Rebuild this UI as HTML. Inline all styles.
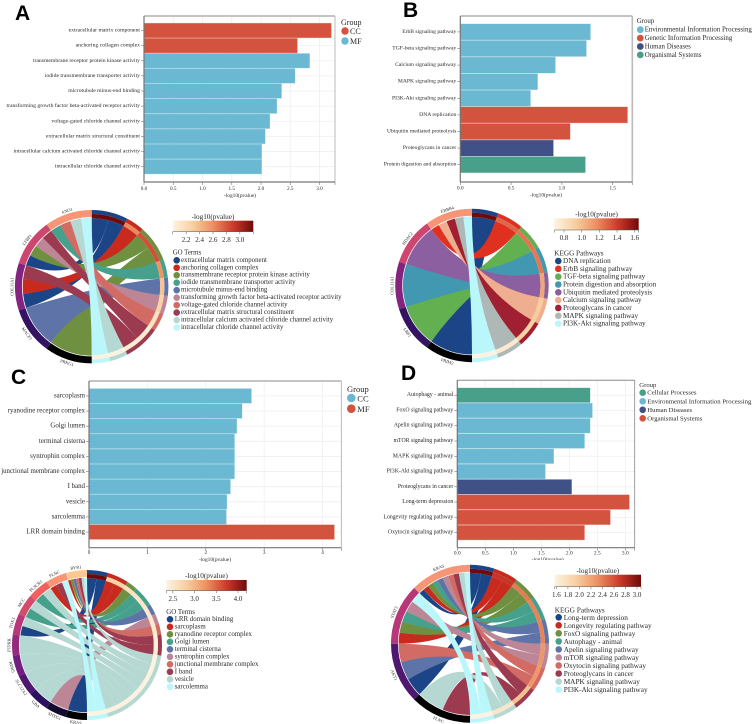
<!DOCTYPE html>
<html lang="en">
<head>
<meta charset="utf-8">
<title>Enrichment bar and chord charts</title>
<style>
html,body{margin:0;padding:0;background:#fff;}
svg{display:block;font-family:"Liberation Serif","Noto Serif CJK SC",serif;}
text{fill:#2a2a2a;}
.letter{font-family:"Liberation Sans",sans-serif;font-weight:700;font-size:21px;fill:#000;}
</style>
</head>
<body>
<svg id="root" width="752" height="724" viewBox="0 0 752 724" xmlns="http://www.w3.org/2000/svg">
  <defs>
    <linearGradient id="heat-gradient" x1="0" x2="1" y1="0" y2="0">
      <stop offset="0" stop-color="#fdf3e2"/>
      <stop offset="0.25" stop-color="#f7cfa0"/>
      <stop offset="0.5" stop-color="#ec8f62"/>
      <stop offset="0.75" stop-color="#cc3a2a"/>
      <stop offset="1" stop-color="#6f0a0a"/>
    </linearGradient>
  </defs>
  <rect x="0" y="0" width="752" height="724" fill="#fff"/>
  <g id="panel-a"></g>
  <g id="panel-b"></g>
  <g id="panel-c"></g>
  <g id="panel-d"></g>
  <text class="letter" x="15" y="20">A</text>
  <text class="letter" x="403" y="17">B</text>
  <text class="letter" x="11" y="384">C</text>
  <text class="letter" x="401" y="380">D</text>
</svg>
<script>
// ---------- Panel A data ----------
const aBarLabels = ["extracellular matrix component","anchoring collagen complex","transmembrane receptor protein kinase activity","iodide transmembrane transporter activity","microtubule minus-end binding","transforming growth factor beta-activated receptor activity","voltage-gated chloride channel activity","extracellular matrix structural constituent","intracellular calcium activated chloride channel activity","intracellular chloride channel activity"];
const aBarValues = [3.2,2.62,2.83,2.58,2.35,2.27,2.15,2.07,2.01,2.01];
const aBarGroups = ["CC","CC","MF","MF","MF","MF","MF","MF","MF","MF"];
const aGroupNames = ["CC","MF"];
const aXTicks = [0,0.5,1,1.5,2,2.5,3];
const aChordTerms = aBarLabels;
const aChordHeat = [3.2,2.62,2.83,2.58,2.35,2.27,2.15,2.07,2.01,2.01];
const aGenes = ["PRKG1","MACF1","COL11A1","LTBP1","ANO1"];
const aGeneLinks = [[2],[4],[0,1,7],[0,2,5,7],[3,6,8,9]];
const aHeatTicks = [2.2,2.4,2.6,2.8,3.0];
const aHeatDomain = [2.0,3.2];

// ---------- Panel B data ----------
const bBarLabels = ["ErbB signaling pathway","TGF-beta signaling pathway","Calcium signaling pathway","MAPK signaling pathway","PI3K-Akt signaling pathway","DNA replication","Ubiquitin mediated proteolysis","Proteoglycans in cancer","Protein digestion and absorption"];
const bBarValues = [1.28,1.24,0.935,0.76,0.69,1.645,1.08,0.915,1.23];
const bBarGroups = ["Environmental Information Processing","Environmental Information Processing","Environmental Information Processing","Environmental Information Processing","Environmental Information Processing","Genetic Information Processing","Genetic Information Processing","Human Diseases","Organismal Systems"];
const bGroupNames = ["Environmental Information Processing","Genetic Information Processing","Human Diseases","Organismal Systems"];
const bXTicks = [0,0.5,1,1.5];
const bChordTerms = ["DNA replication","ErbB signaling pathway","TGF-beta signaling pathway","Protein digestion and absorption","Ubiquitin mediated proteolysis","Calcium signaling pathway","Proteoglycans in cancer","MAPK signaling pathway","PI3K-Akt signaling pathway"];
const bChordHeat = [1.645,1.28,1.24,1.23,1.08,0.935,0.915,0.76,0.69];
const bGenes = ["PRIM2","LRP1","COL11A1","HDAC2","ERBB4"];
const bGeneLinks = [[0],[2],[3],[4],[1,5,6,7,8]];
const bHeatTicks = [0.8,1.0,1.2,1.4,1.6];
const bHeatDomain = [0.69,1.645];

// ---------- Panel C data ----------
const cBarLabels = ["sarcoplasm","ryanodine receptor complex","Golgi lumen","terminal cisterna","syntrophin complex","junctional membrane complex","I band","vesicle","sarcolemma","LRR domain binding"];
const cBarValues = [2.78,2.62,2.53,2.49,2.49,2.49,2.42,2.36,2.35,4.2];
const cBarGroups = ["CC","CC","CC","CC","CC","CC","CC","CC","CC","MF"];
const cGroupNames = ["CC","MF"];
const cXTicks = [0,1,2,3,4];
const cChordTerms = ["LRR domain binding","sarcoplasm","ryanodine receptor complex","Golgi lumen","terminal cisterna","syntrophin complex","junctional membrane complex","I band","vesicle","sarcolemma"];
const cChordHeat = [4.2,2.78,2.62,2.53,2.49,2.49,2.49,2.42,2.36,2.35];
const cGenes = ["KRAS","SNTG1","GBA","SLC12A2","RDH5","PTPRK","TOX3","MCC","PLSCR1","FLNC","RYR1"];
const cGeneLinks = [[0],[5],[8],[8],[8],[8],[0,8],[3,8],[3,8],[1,7,9],[1,2,4,6,7,8,9]];
const cHeatTicks = [2.5,3.0,3.5,4.0];
const cHeatDomain = [2.35,4.2];

// ---------- Panel D data ----------
const dBarLabels = ["Autophagy - animal","FoxO signaling pathway","Apelin signaling pathway","mTOR signaling pathway","MAPK signaling pathway","PI3K-Akt signaling pathway","Proteoglycans in cancer","Long-term depression","Longevity regulating pathway","Oxytocin signaling pathway"];
const dBarValues = [2.37,2.41,2.37,2.27,1.72,1.57,2.04,3.07,2.73,2.27];
const dBarGroups = ["Cellular Processes","Environmental Information Processing","Environmental Information Processing","Environmental Information Processing","Environmental Information Processing","Environmental Information Processing","Human Diseases","Organismal Systems","Organismal Systems","Organismal Systems"];
const dGroupNames = ["Cellular Processes","Environmental Information Processing","Human Diseases","Organismal Systems"];
const dXTicks = [0,0.5,1,1.5,2,2.5,3];
const dChordTerms = ["Long-term depression","Longevity regulating pathway","FoxO signaling pathway","Autophagy - animal","Apelin signaling pathway","mTOR signaling pathway","Oxytocin signaling pathway","Proteoglycans in cancer","MAPK signaling pathway","PI3K-Akt signaling pathway"];
const dChordHeat = [3.07,2.73,2.41,2.37,2.37,2.27,2.27,2.04,1.72,1.57];
const dGenes = ["FLNC","AKT1","STAT3","KRAS"];
const dGeneLinks = [[7,8],[0,4,6],[1,2,3,5,9],[0,1,2,3,4,5,6,7,8,9]];
const dHeatTicks = [1.6,1.8,2.0,2.2,2.4,2.6,2.8,3.0];
const dHeatDomain = [1.57,3.07];

// ---------- Drawing helpers ----------
const NS = 'http://www.w3.org/2000/svg';
const BLUE = '#6bb8d3', RED = '#d4533f', NAVY = '#3f5186', GREEN = '#48a08a';
const paletteGO = ['#1c4587','#c92a1e','#6e9040','#45a08c','#5e74a8','#bd8696','#d26b64','#9c3a50','#b5d8d3','#baf7fb'];
const paletteKEGG = ['#1c4587','#e03020','#62b050','#4298b0','#8c5fa0','#f0ae90','#a01f30','#aeb8b6','#baf7fb'];
const magmaStops = [[0,0,0],[44,17,95],[114,31,129],[183,55,121],[241,96,93],[253,201,144]];
const heatStops = [[253,243,226],[247,207,160],[236,143,98],[204,58,42],[111,10,10]];

function mk(parent, tag, attrs, txt) {
  const el = document.createElementNS(NS, tag);
  for (const k in attrs) el.setAttribute(k, attrs[k]);
  if (txt !== undefined) el.textContent = txt;
  parent.appendChild(el);
  return el;
}
function lerpStops(stops, t) {
  const c = Math.max(0, Math.min(1, t)) * (stops.length - 1);
  const i = Math.min(stops.length - 2, Math.floor(c));
  const f = c - i;
  const v = [0,1,2].map(k => Math.round(stops[i][k] + (stops[i+1][k] - stops[i][k]) * f));
  return 'rgb(' + v.join(',') + ')';
}
function polar(cx, cy, r, deg) {
  const a = deg * Math.PI / 180;
  return (cx + r * Math.sin(a)).toFixed(2) + ' ' + (cy - r * Math.cos(a)).toFixed(2);
}
function ringPath(cx, cy, r1, r2, a, b) {
  return 'M' + polar(cx,cy,r2,a) + ' A' + r2 + ' ' + r2 + ' 0 0 1 ' + polar(cx,cy,r2,b) +
         ' L' + polar(cx,cy,r1,b) + ' A' + r1 + ' ' + r1 + ' 0 0 0 ' + polar(cx,cy,r1,a) + ' Z';
}

function drawBarChart(root, o, labels, values, groups, groupNames, groupColors, xTicks, tickDigits) {
  const xScale = v => o.left + v * o.pxPerUnit;
  const yBand = i => o.barTop + i * o.step;
  if (o.grid) {
    xTicks.forEach(t => {
      const gl = mk(root, 'line', {x1:xScale(t), x2:xScale(t), y1:o.top, y2:o.bottom, stroke:'#efefef', 'stroke-width':0.8});
      
      
    });
    labels.forEach((l, i) => {
      const gl = mk(root, 'line', {x1:o.left, x2:o.right, y1:yBand(i)+o.barH/2, y2:yBand(i)+o.barH/2, stroke:'#efefef', 'stroke-width':0.8});
      
      
    });
  }
  labels.forEach((l, i) => {
    const col = groupColors[groupNames.indexOf(groups[i])];
    const bar = mk(root, 'rect', {x:o.left, y:yBand(i), width:xScale(values[i])-o.left, height:o.barH, fill:col, stroke:col, 'stroke-opacity':0.4, 'stroke-width':0.8});
    
    
    const tick = mk(root, 'line', {x1:o.left-3, x2:o.left, y1:yBand(i)+o.barH/2, y2:yBand(i)+o.barH/2, stroke:'#777', 'stroke-width':0.6});
    
    
    const lab = mk(root, 'text', {x:o.left-4, y:yBand(i)+o.barH/2, 'text-anchor':'end', 'dominant-baseline':'central', 'font-size':o.labelSize}, l);
    
    
  });
  const frameTop = mk(root, 'line', {x1:o.left, x2:o.right, y1:o.top, y2:o.top, stroke:'#8a8a8a', 'stroke-width':1});
  
  
  const frameRight = mk(root, 'line', {x1:o.right, x2:o.right, y1:o.top, y2:o.bottom, stroke:o.rightColor, 'stroke-width':o.rightWidth});
  
  
  const yAxis = mk(root, 'line', {x1:o.left, x2:o.left, y1:o.top, y2:o.bottom, stroke:'#777', 'stroke-width':1.2});
  
  
  const xAxis = mk(root, 'line', {x1:o.left, x2:o.right, y1:o.bottom, y2:o.bottom, stroke:'#777', 'stroke-width':1.2});
  
  
  xTicks.forEach(t => {
    const tick = mk(root, 'line', {x1:xScale(t), x2:xScale(t), y1:o.bottom, y2:o.bottom+3, stroke:'#777', 'stroke-width':0.6});
    
    
    const lab = mk(root, 'text', {x:xScale(t), y:o.tickY, 'text-anchor':'middle', 'dominant-baseline':'central', 'font-size':o.tickSize}, t.toFixed(tickDigits));
    
    
  });
  const endTick = mk(root, 'line', {x1:o.right, x2:o.right, y1:o.bottom, y2:o.bottom+3, stroke:'#777', 'stroke-width':0.6});
  
  
  const title = mk(root, 'text', {x:o.titleX, y:o.titleY, 'text-anchor':'middle', 'dominant-baseline':'central', 'font-size':5.4}, '-log10(pvalue)');
  
  
  // Group legend
  const lt = mk(root, 'text', {x:o.legX, y:o.legTitleY, 'dominant-baseline':'central', 'font-size':o.legSize}, 'Group');
  
  
  groupNames.forEach((g, i) => {
    const y = o.legY + i * o.legStep;
    const c = mk(root, 'circle', {cx:o.legCX, cy:y, r:o.legR, fill:groupColors[i]});
    
    
    const t = mk(root, 'text', {x:o.legTX, y:y+0.5, 'dominant-baseline':'central', 'font-size':o.legSize}, g);
    
    
  });
}

function drawChord(root, o, terms, heat, genes, geneLinks, heatDomain, heatTicks, palette, legendTitle) {
  const cx = o.cx, cy = o.cy, R = o.R;
  const heatT = v => (v - heatDomain[0]) / (heatDomain[1] - heatDomain[0]);
  // count links for each term
  const counts = terms.map(() => 0);
  geneLinks.forEach(list => list.forEach(t => counts[t]++));
  const total = counts.reduce((a, b) => a + b, 0);
  const unit = 180 / total;
  const termStart = [];
  let acc = 0;
  counts.forEach((c, i) => { termStart[i] = acc; acc += c * unit; });
  const geneSpan = 180 / genes.length;
  // gene slots
  const ribbons = [];
  geneLinks.forEach((list, g) => {
    const gs = 180 + g * geneSpan;
    const w = geneSpan / list.length;
    list.forEach((t, k) => ribbons.push({term:t, gene:g, b1:gs + k * w, b2:gs + (k + 1) * w}));
  });
  // term slots: later genes (closest to the top) first
  terms.forEach((_, t) => {
    const mine = ribbons.filter(r => r.term === t).sort((p, q) => q.b1 - p.b1);
    mine.forEach((r, k) => { r.a1 = termStart[t] + k * unit; r.a2 = termStart[t] + (k + 1) * unit; });
  });
  const rT = R - 8.2, rG = R - 7.7;
  ribbons.sort((p, q) => p.term - q.term).forEach(r => {
    const d = 'M' + polar(cx,cy,rT,r.a1) + ' A' + rT + ' ' + rT + ' 0 0 1 ' + polar(cx,cy,rT,r.a2) +
      ' Q' + cx + ' ' + cy + ' ' + polar(cx,cy,rG,r.b1) +
      ' A' + rG + ' ' + rG + ' 0 0 1 ' + polar(cx,cy,rG,r.b2) +
      ' Q' + cx + ' ' + cy + ' ' + polar(cx,cy,rT,r.a1) + ' Z';
    const rib = mk(root, 'path', {d:d, fill:palette[r.term]});
    
    
  });
  terms.forEach((_, t) => {
    const a = termStart[t], b = a + counts[t] * unit;
    const seg = mk(root, 'path', {d:ringPath(cx,cy,R-4,R,a,b), fill:palette[t]});
    
    
    const hs = mk(root, 'path', {d:ringPath(cx,cy,R-8.2,R-4,a,b), fill:lerpStops(heatStops, heatT(heat[t]))});
    
    
  });
  const magmaEnd = genes.length > 5 ? 1 : 0.9;
  genes.forEach((g, i) => {
    const a = 180 + i * geneSpan, b = a + geneSpan;
    const t = genes.length > 1 ? magmaEnd * i / (genes.length - 1) : 0;
    const seg = mk(root, 'path', {d:ringPath(cx,cy,R-7,R,a,b), fill:lerpStops(magmaStops, t)});
    
    
    const mid = (a + b) / 2;
    const rad = mid * Math.PI / 180;
    const lx = cx + (R + 3.2) * Math.sin(rad), ly = cy - (R + 3.2) * Math.cos(rad);
    const rot = mid < 270 ? mid - 180 : mid - 360;
    const lab = mk(root, 'text', {x:lx.toFixed(2), y:ly.toFixed(2), 'text-anchor':'middle', 'dominant-baseline':'central', 'font-size':4.4, fill:'#444', transform:'rotate(' + rot.toFixed(1) + ' ' + lx.toFixed(2) + ' ' + ly.toFixed(2) + ')'}, g);
    
    
  });
  // Colour bar
  const hx = v => o.barX + heatT(v) * o.barW;
  const bt = mk(root, 'text', {x:o.barX + o.barW / 2, y:o.barTitleY, 'text-anchor':'middle', 'dominant-baseline':'central', 'font-size':7.2}, '-log10(pvalue)');
  
  
  const bar = mk(root, 'rect', {x:o.barX, y:o.barY, width:o.barW, height:o.barH, fill:'url(#heat-gradient)'});
  
  
  const ba = mk(root, 'line', {x1:o.barX, x2:o.barX + o.barW, y1:o.barY + o.barH, y2:o.barY + o.barH, stroke:'#555', 'stroke-width':0.5});
  
  
  [heatDomain[0], heatDomain[1]].forEach(v => {
    const e = mk(root, 'line', {x1:hx(v), x2:hx(v), y1:o.barY + o.barH, y2:o.barY + o.barH + 2.5, stroke:'#555', 'stroke-width':0.5});
    
    
  });
  heatTicks.forEach(v => {
    const tk = mk(root, 'line', {x1:hx(v), x2:hx(v), y1:o.barY + o.barH, y2:o.barY + o.barH + 2.5, stroke:'#555', 'stroke-width':0.5});
    
    
    const tl = mk(root, 'text', {x:hx(v), y:o.barLabelY, 'text-anchor':'middle', 'dominant-baseline':'central', 'font-size':7}, v.toFixed(1));
    
    
  });
  // Term legend
  const lt = mk(root, 'text', {x:o.barX, y:o.legTitleY, 'dominant-baseline':'central', 'font-size':o.legSize}, legendTitle);
  
  
  terms.forEach((t, i) => {
    const y = o.legY + i * o.legStep;
    const c = mk(root, 'circle', {cx:o.legCX, cy:y, r:3.3, fill:palette[i]});
    
    
    const tx = mk(root, 'text', {x:o.legTX, y:y, 'dominant-baseline':'central', 'font-size':o.legSize}, t);
    
    
  });
}

// ---------- Render panels ----------
const pa = document.getElementById('panel-a');
drawBarChart(pa, {left:144,right:335,top:16,bottom:182,pxPerUnit:58.5,barTop:23.3,step:15.13,barH:14.4,grid:true,labelSize:5.7,tickSize:5.2,tickY:189,titleX:240,titleY:196,rightColor:'#aaa',rightWidth:0.8,legX:341,legTitleY:22.5,legY:31,legStep:10,legR:3.7,legCX:345,legTX:350,legSize:8}, aBarLabels, aBarValues, aBarGroups, aGroupNames, [RED,BLUE], aXTicks, 1);
drawChord(pa, {cx:91.7,cy:286.7,R:76.7,barX:172.7,barW:80.6,barY:220.7,barH:11,barTitleY:217,barLabelY:240,legTitleY:253,legY:260.3,legStep:7.47,legCX:176.7,legTX:181,legSize:6.85}, aChordTerms, aChordHeat, aGenes, aGeneLinks, aHeatDomain, aHeatTicks, paletteGO, 'GO Terms');

const pb = document.getElementById('panel-b');
drawBarChart(pb, {left:460.3,right:632.3,top:16,bottom:182,pxPerUnit:101.6,barTop:24,step:16.6,barH:15.8,grid:false,labelSize:5.6,tickSize:5.2,tickY:188.7,titleX:546,titleY:195.7,rightColor:'#bbb',rightWidth:1.6,legX:636.7,legTitleY:21.5,legY:29.7,legStep:8.4,legR:3.4,legCX:640.3,legTX:644.7,legSize:6.9}, bBarLabels, bBarValues, bBarGroups, bGroupNames, [BLUE,RED,NAVY,GREEN], bXTicks, 1);
drawChord(pb, {cx:472,cy:285.5,R:76.7,barX:554.3,barW:84.4,barY:218.3,barH:11.7,barTitleY:214.3,barLabelY:238,legTitleY:253.7,legY:261,legStep:7.83,legCX:558.3,legTX:563,legSize:7.2}, bChordTerms, bChordHeat, bGenes, bGeneLinks, bHeatDomain, bHeatTicks, paletteKEGG, 'KEGG Pathways');

const pc = document.getElementById('panel-c');
drawBarChart(pc, {left:89,right:341.3,top:381,bottom:547.7,pxPerUnit:58.4,barTop:388.7,step:15.13,barH:14.4,grid:true,labelSize:6.9,tickSize:5.2,tickY:553,titleX:215,titleY:560,rightColor:'#aaa',rightWidth:0.8,legX:347,legTitleY:389,legY:398,legStep:10.7,legR:4.3,legCX:351.3,legTX:357.3,legSize:8.5}, cBarLabels, cBarValues, cBarGroups, cGroupNames, [BLUE,RED], cXTicks, 0);
drawChord(pc, {cx:87,cy:645,R:75,barX:166.3,barW:80.4,barY:580,barH:10.7,barTitleY:576,barLabelY:599,legTitleY:612.7,legY:619.3,legStep:7.5,legCX:170,legTX:174.7,legSize:6.9}, cChordTerms, cChordHeat, cGenes, cGeneLinks, cHeatDomain, cHeatTicks, paletteGO, 'GO Terms');

const pd = document.getElementById('panel-d');
drawBarChart(pd, {left:457.3,right:634.7,top:380.3,bottom:547.7,pxPerUnit:56,barTop:388,step:15.27,barH:14.4,grid:true,labelSize:5.8,tickSize:5.4,tickY:553.7,titleX:547.7,titleY:560,rightColor:'#888',rightWidth:0.8,legX:639.3,legTitleY:385.7,legY:392.7,legStep:8.55,legR:3.3,legCX:642.7,legTX:647.3,legSize:6.7}, dBarLabels, dBarValues, dBarGroups, dGroupNames, [GREEN,BLUE,NAVY,RED], dXTicks, 1);
const mask = mk(pd, 'rect', {x:510, y:560, width:80, height:5, fill:'#fff'});


drawChord(pd, {cx:470,cy:643.7,R:79,barX:554.7,barW:86.3,barY:574.7,barH:12,barTitleY:571,barLabelY:595,legTitleY:610,legY:617.3,legStep:8.03,legCX:558.7,legTX:563.7,legSize:7.3}, dChordTerms, dChordHeat, dGenes, dGeneLinks, dHeatDomain, dHeatTicks, paletteGO, 'KEGG Pathways');
</script>
</body>
</html>
